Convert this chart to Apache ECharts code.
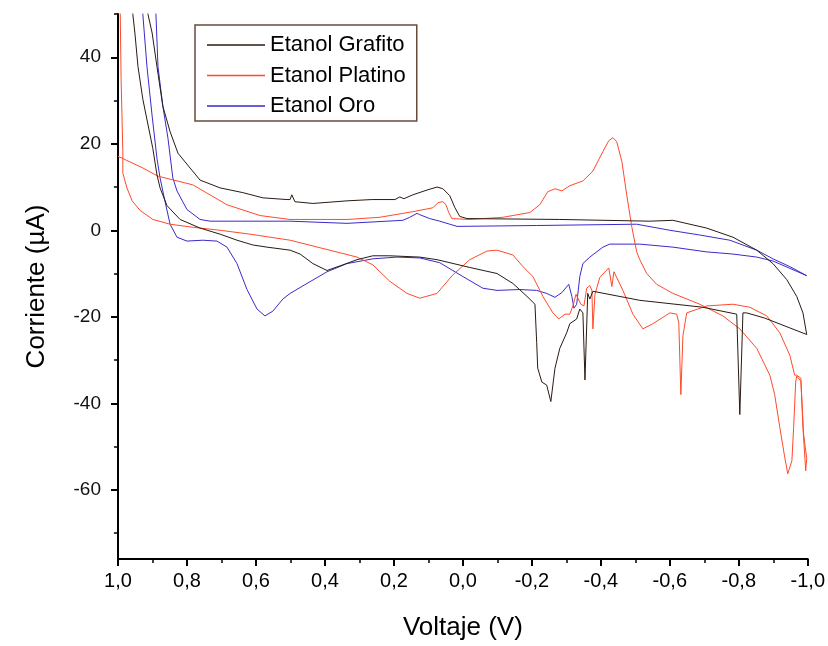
<!DOCTYPE html>
<html>
<head>
<meta charset="utf-8">
<script src="https://cdn.jsdelivr.net/npm/echarts@6/dist/echarts.min.js"></script>
<style>
html,body{margin:0;padding:0;background:#fff;}
#chart{width:828px;height:646px;}
</style>
</head>
<body>
<div id="chart"></div>
<script>
// ---- data: [Voltaje (V), Corriente (µA)] ----
const seriesNames = ['Etanol Grafito', 'Etanol Platino', 'Etanol Oro'];

const grafito = [
  [0.919,53],[0.913,49.9],[0.901,45.6],[0.887,37.8],[0.870,28.7],[0.849,22.8],[0.826,17.8],
  [0.791,14.4],[0.762,11.6],[0.704,9.8],[0.638,8.7],[0.580,7.5],[0.510,7.1],[0.501,7.1],
  [0.496,8.2],[0.487,6.6],[0.435,6.2],[0.336,6.8],[0.264,7.1],[0.197,7.1],[0.183,7.7],
  [0.171,7.3],[0.145,8.2],[0.104,9.3],[0.075,10.0],[0.058,9.6],[0.038,8.0],[0.023,5.2],
  [0.009,3.2],[-0.012,2.7],[-0.281,2.5],[-0.542,2.1],[-0.609,2.3],[-0.707,0.5],[-0.783,-1.6],
  [-0.852,-4.6],[-0.899,-7.7],[-0.939,-11.4],[-0.968,-15.3],[-0.986,-19.1],[-0.997,-24.1],
  [-0.875,-20.3],[-0.823,-19.1],[-0.812,-19.1],[-0.803,-42.6],[-0.794,-19.4],[-0.696,-17.8],
  [-0.513,-16.2],[-0.377,-14.1],[-0.368,-15.9],[-0.362,-14.6],[-0.354,-34.6],[-0.348,-19.1],
  [-0.339,-18.2],[-0.330,-20.5],[-0.310,-21.6],[-0.301,-23.7],[-0.281,-27.3],[-0.267,-31.9],
  [-0.255,-39.6],[-0.243,-35.8],[-0.229,-35.1],[-0.217,-31.9],[-0.214,-26.0],[-0.209,-17.1],
  [-0.186,-15.3],[-0.145,-12.3],[-0.099,-10.0],[-0.020,-8.6],[0.075,-6.8],[0.125,-6.2],
  [0.212,-5.9],[0.261,-5.9],[0.307,-6.8],[0.348,-8.0],[0.394,-9.3],[0.435,-7.7],[0.472,-5.5],
  [0.501,-4.6],[0.568,-3.9],[0.609,-3.4],[0.655,-2.3],[0.704,-0.9],[0.762,0.5],[0.820,2.5],
  [0.858,5.7],[0.878,9.8],[0.887,12.8],[0.899,18.9],[0.928,30.3],[0.942,37.8],[0.951,45.6],
  [0.957,49.9],[0.959,53]
];

const platino = [
  [0.994,53.1],[0.991,34.9],[0.986,18.2],[0.986,13.2],[0.974,9.8],[0.959,6.8],[0.936,4.6],
  [0.899,2.5],[0.849,1.4],[0.783,0.7],[0.704,0.0],[0.617,-0.9],[0.501,-2.3],[0.307,-6.2],
  [0.261,-8.0],[0.212,-11.8],[0.162,-14.6],[0.125,-15.7],[0.075,-14.6],[0.029,-10.3],
  [-0.020,-6.8],[-0.070,-4.8],[-0.099,-4.6],[-0.145,-5.7],[-0.174,-8.4],[-0.203,-10.7],
  [-0.232,-15.3],[-0.261,-19.1],[-0.278,-20.5],[-0.296,-19.4],[-0.310,-19.4],[-0.319,-17.5],
  [-0.328,-14.8],[-0.333,-14.4],[-0.342,-17.1],[-0.351,-17.5],[-0.359,-13.4],[-0.368,-12.8],
  [-0.374,-13.9],[-0.377,-22.8],[-0.383,-14.8],[-0.397,-10.9],[-0.423,-8.7],[-0.432,-13.0],
  [-0.438,-9.6],[-0.464,-13.9],[-0.493,-19.4],[-0.522,-22.8],[-0.551,-21.6],[-0.600,-19.1],
  [-0.620,-19.4],[-0.626,-21.4],[-0.632,-38.0],[-0.638,-24.4],[-0.649,-19.1],[-0.707,-17.5],
  [-0.783,-17.1],[-0.832,-17.8],[-0.881,-19.8],[-0.919,-23.7],[-0.948,-28.9],[-0.962,-33.5],
  [-0.968,-33.5],[-0.980,-34.2],[-0.986,-45.6],[-0.994,-55.6],[-0.997,-52.8],[-0.988,-47.2],
  [-0.980,-34.9],[-0.968,-33.7],[-0.965,-35.1],[-0.959,-45.6],[-0.954,-53.3],[-0.942,-56.3],
  [-0.933,-52.4],[-0.919,-45.6],[-0.904,-38.0],[-0.890,-33.5],[-0.852,-27.3],[-0.803,-22.8],
  [-0.754,-19.8],[-0.687,-17.1],[-0.609,-14.6],[-0.562,-12.5],[-0.533,-10.0],[-0.513,-6.8],
  [-0.504,-5.0],[-0.490,0.7],[-0.475,8.2],[-0.461,15.9],[-0.446,20.5],[-0.435,21.4],
  [-0.423,20.7],[-0.406,18.2],[-0.377,13.7],[-0.348,11.4],[-0.310,10.3],[-0.287,9.1],
  [-0.267,9.6],[-0.246,8.9],[-0.223,5.9],[-0.194,4.1],[-0.116,3.0],[-0.020,2.5],[0.032,2.7],
  [0.041,4.1],[0.049,5.9],[0.058,6.6],[0.072,6.4],[0.087,5.2],[0.145,4.3],[0.241,3.0],
  [0.336,2.5],[0.501,2.5],[0.588,3.4],[0.684,5.9],[0.783,10.5],[0.884,12.5],[0.928,14.4],
  [1.0,17.1]
];

const oro = [
  [0.893,53.1],[0.890,49.9],[0.884,37.8],[0.870,28.7],[0.855,21.2],[0.841,12.1],[0.829,9.1],
  [0.800,4.8],[0.762,2.5],[0.733,2.1],[0.501,2.1],[0.336,1.6],[0.174,2.3],[0.154,3.0],
  [0.133,3.9],[0.125,3.6],[0.096,2.7],[0.067,2.1],[0.038,1.4],[0.017,0.9],[-0.214,1.1],
  [-0.504,1.4],[-0.600,0.0],[-0.687,-1.1],[-0.774,-2.3],[-0.852,-4.6],[-0.899,-6.6],
  [-0.948,-8.4],[-0.997,-10.5],[-0.948,-8.8],[-0.899,-7.1],[-0.852,-6.2],[-0.783,-5.5],
  [-0.707,-5.0],[-0.609,-3.9],[-0.513,-3.2],[-0.426,-3.2],[-0.406,-3.9],[-0.368,-6.2],
  [-0.348,-7.7],[-0.339,-10.7],[-0.330,-17.1],[-0.322,-18.0],[-0.316,-15.3],[-0.307,-12.5],
  [-0.287,-14.4],[-0.267,-15.5],[-0.243,-14.6],[-0.214,-13.9],[-0.165,-13.7],[-0.099,-13.9],
  [-0.058,-13.4],[0.000,-10.7],[0.067,-7.5],[0.125,-6.4],[0.191,-6.2],[0.261,-6.6],
  [0.336,-7.7],[0.394,-9.6],[0.452,-12.3],[0.501,-14.6],[0.522,-15.9],[0.551,-18.7],
  [0.574,-19.8],[0.597,-18.2],[0.626,-13.7],[0.655,-7.7],[0.684,-3.9],[0.713,-2.5],
  [0.754,-2.3],[0.800,-2.5],[0.829,-1.6],[0.849,1.4],[0.864,6.8],[0.878,12.1],[0.887,16.6],
  [0.901,26.4],[0.916,37.8],[0.928,49.9],[0.930,53.1]
];

const yMajorTicks = [-60, -40, -20, 0, 20, 40];
const yMinorTicks = [-70, -50, -30, -10, 10, 30, 50];
const xRange = [-1, 1];
const yRange = [-76, 50];

const colors = ['#2a1a12', '#ff4a2a', '#3a2acb'];

const chart = echarts.init(document.getElementById('chart'), null, {renderer: 'canvas'});
const font = 'Liberation Sans, Arial, sans-serif';

chart.setOption({
  animation: false,
  backgroundColor: '#fff',
  grid: {left: 118, right: 20, top: 14, bottom: 81, containLabel: false},
  legend: {
    orient: 'vertical',
    left: 195, top: 25,
    padding: [9, 11, 4, 12],
    itemGap: 8.5,
    itemWidth: 58, itemHeight: 1.3,
    icon: 'rect',
    borderColor: '#6a4a3a', borderWidth: 1.5,
    textStyle: {fontFamily: font, fontSize: 22, color: '#000', lineHeight: 22},
    data: seriesNames
  },
  xAxis: {
    type: 'value', inverse: true, min: xRange[0], max: xRange[1], interval: 0.2,
    name: 'Voltaje (V)', nameLocation: 'middle', nameGap: 56,
    nameTextStyle: {fontFamily: font, fontSize: 26, color: '#000'},
    axisLine: {show: true, onZero: false, lineStyle: {color: '#000', width: 2}},
    axisTick: {show: true, inside: false, length: 7, lineStyle: {color: '#000', width: 2}},
    minorTick: {show: true, splitNumber: 2, length: 4, lineStyle: {color: '#000', width: 1.5}},
    splitLine: {show: false},
    axisLabel: {
      fontFamily: font, fontSize: 20, color: '#000', margin: 12,
      formatter: v => v.toFixed(1).replace('.', ',')
    }
  },
  yAxis: [{
    type: 'value', min: yRange[0], max: yRange[1],
    name: 'Corriente (µA)', nameLocation: 'middle', nameGap: 68,
    nameTextStyle: {fontFamily: font, fontSize: 26, color: '#000'},
    axisLine: {show: true, onZero: false, lineStyle: {color: '#000', width: 2}},
    axisTick: {show: true, inside: false, length: 7, customValues: yMajorTicks, lineStyle: {color: '#000', width: 2}},
    splitLine: {show: false},
    axisLabel: {fontFamily: font, fontSize: 19, color: '#111', margin: 17, customValues: yMajorTicks}
  }, {
    type: 'value', min: yRange[0], max: yRange[1], position: 'left',
    axisLine: {show: false, onZero: false},
    axisTick: {show: true, inside: false, length: 4, customValues: yMinorTicks, lineStyle: {color: '#000', width: 1.5}},
    axisLabel: {show: false},
    splitLine: {show: false}
  }],
  series: [grafito, platino, oro].map((d, k) => ({
    name: seriesNames[k], type: 'line', data: d, xAxisIndex: 0, yAxisIndex: 0,
    showSymbol: false, symbol: 'none', clip: true, smooth: false,
    lineStyle: {color: colors[k], width: 1},
    itemStyle: {color: colors[k]},
    z: 3 - k
  }))
});
</script>
</body>
</html>
